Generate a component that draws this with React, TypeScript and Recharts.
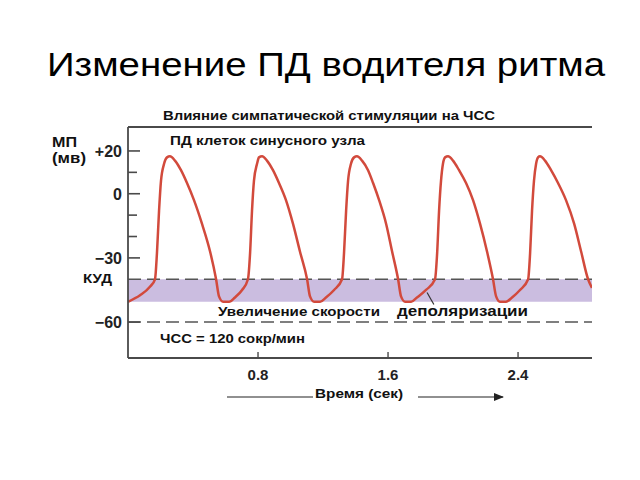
import React from "react";
import {
  ComposedChart,
  Line,
  XAxis,
  YAxis,
  ReferenceLine,
  ReferenceArea,
} from "recharts";

// time, seconds
const timeSec = [
  0.0, 0.074, 0.135, 0.166, 0.178, 0.191, 0.203, 0.222, 0.24, 0.258, 0.289, 0.326, 0.363, 0.406, 0.455, 0.505, 0.542, 0.56, 0.585, 0.622, 0.658, 0.702, 0.738,
  0.751, 0.763, 0.775, 0.794, 0.806, 0.825, 0.855, 0.892, 0.929, 0.972, 1.015, 1.058, 1.102, 1.12, 1.145, 1.182, 1.218, 1.268, 1.317,
  1.329, 1.342, 1.354, 1.372, 1.391, 1.409, 1.44, 1.477, 1.508, 1.545, 1.588, 1.625, 1.662, 1.68, 1.705, 1.742, 1.778, 1.834, 1.889,
  1.902, 1.914, 1.926, 1.938, 1.951, 1.969, 2.0, 2.037, 2.08, 2.123, 2.166, 2.209, 2.246, 2.265, 2.289, 2.326, 2.363, 2.412, 2.462,
  2.474, 2.486, 2.498, 2.511, 2.523, 2.535, 2.566, 2.603, 2.646, 2.695, 2.745, 2.788, 2.831, 2.855,
];

// membrane potential, mV
const membranePotential = [
  -50.5, -47.5, -43.5, -40, -28, -8, 6, 14, 17, 17.5, 15.5, 11, 5, -3, -14, -27, -40, -48, -50.5, -50.5, -48.5, -45, -40,
  -28, -8, 6, 14, 17, 17.5, 15.5, 11, 5, -3, -14, -27, -40, -48, -50.5, -50.5, -48.5, -45, -40,
  -28, -8, 6, 14, 17, 17.5, 15.5, 11, 5, -3, -14, -27, -40, -48, -50.5, -50.5, -48.5, -45, -40,
  -28, -8, 6, 14, 17, 17.5, 15.5, 11, 5, -3, -14, -27, -40, -48, -50.5, -50.5, -48.5, -45, -40,
  -28, -8, 6, 14, 17, 17.5, 15.5, 11, 5, -3, -14, -27, -40, -44,
];

const yTicks = [20, 10, 0, -10, -20, -30, -60];
const yTickLabels: Record<number, string> = { 20: "+20", 0: "0", [-30]: "\u221230", [-60]: "\u221260" };
const xTicks = [0.8, 1.6, 2.4];

const thresholdMv = -40; // КУД
const diastolicMv = -50.5;
const lowerDashMv = -60;
const X_MAX = 2.855;
const Y_MIN = -76.8;
const Y_MAX = 31.2;

const data = timeSec.map((t, i) => ({ t, v: membranePotential[i] }));

const FONT = "'Liberation Sans', Arial, sans-serif";
const AXIS = "#4a4a4a";

const YTick = (props: any) => {
  const { x, y, payload } = props;
  const label = yTickLabels[payload.value];
  const major = label !== undefined;
  return (
    <g>
      <line x1={x} y1={y} x2={x + (major ? 12 : 9)} y2={y} stroke={AXIS} strokeWidth={1.6} />
      {major && (
        <text x={x - 6} y={y + 6} textAnchor="end" fontFamily={FONT} fontWeight="bold" fontSize={16} fill="#222">
          {label}
        </text>
      )}
    </g>
  );
};

const XTick = (props: any) => {
  const { x, y, payload } = props;
  return (
    <g>
      <line x1={x} y1={y - 6} x2={x} y2={y} stroke={AXIS} strokeWidth={1.4} />
      <text x={x} y={y + 22} textAnchor="middle" fontFamily={FONT} fontWeight="bold" fontSize={15} fill="#222">
        {payload.value.toFixed(1)}
      </text>
    </g>
  );
};

const T = (p: { x: number; y: number; len: number; size: number; bold?: boolean; children: string }) => (
  <text
    x={p.x}
    y={p.y}
    fontFamily={FONT}
    fontSize={p.size}
    fontWeight={p.bold === false ? "normal" : "bold"}
    fill="#111"
    textLength={p.len}
    lengthAdjust="spacingAndGlyphs"
  >
    {p.children}
  </text>
);

export default function App() {
  return (
    <div style={{ position: "absolute", left: 0, top: 0, width: 640, height: 480, background: "#fff" }}>
      <ComposedChart
        width={640}
        height={480}
        data={data}
        margin={{ top: 127, right: 48, bottom: 92, left: 68 }}
      >
        <XAxis
          dataKey="t"
          type="number"
          domain={[0, X_MAX]}
          ticks={xTicks}
          interval={0}
          allowDataOverflow
          height={30}
          tickSize={0}
          tickMargin={0}
          tick={<XTick />}
          axisLine={{ stroke: AXIS, strokeWidth: 1.8 }}
          tickLine={false}
        />
        <YAxis
          type="number"
          domain={[Y_MIN, Y_MAX]}
          ticks={yTicks}
          interval={0}
          allowDataOverflow
          width={60}
          tickSize={0}
          tickMargin={0}
          tick={<YTick />}
          axisLine={{ stroke: AXIS, strokeWidth: 1.8 }}
          tickLine={false}
        />
        <ReferenceArea
          x1={0}
          x2={X_MAX}
          y1={diastolicMv}
          y2={thresholdMv}
          fill="#cbbde0"
          fillOpacity={1}
          stroke="none"
          ifOverflow="visible"
        />
        <ReferenceLine y={Y_MAX} stroke={AXIS} strokeWidth={1.8} ifOverflow="visible" />
        <ReferenceLine y={thresholdMv} stroke="#555" strokeWidth={1.6} strokeDasharray="13 6" />
        <ReferenceLine y={lowerDashMv} stroke="#555" strokeWidth={1.6} strokeDasharray="13 6" />
        <ReferenceLine
          segment={[
            { x: 1.84, y: -46.2 },
            { x: 1.882, y: -51.8 },
          ]}
          stroke="#333"
          strokeWidth={1.2}
          ifOverflow="visible"
        />
        <Line
          type="monotone"
          dataKey="v"
          stroke="#d24a3c"
          strokeWidth={2.5}
          dot={false}
          isAnimationActive={false}
        />
      </ComposedChart>
      <svg
        width={640}
        height={480}
        style={{ position: "absolute", left: 0, top: 0, pointerEvents: "none" }}
      >
        <text
          x={47}
          y={76}
          fontFamily={FONT}
          fontSize={34}
          fill="#000"
          textLength={558}
          lengthAdjust="spacingAndGlyphs"
        >
          Изменение ПД водителя ритма
        </text>
        <T x={163} y={120} len={332} size={12}>Влияние симпатической стимуляции на ЧСС</T>
        <T x={170} y={145} len={195} size={12}>ПД клеток синусного узла</T>
        <T x={52} y={147} len={25} size={15}>МП</T>
        <T x={52} y={163} len={34} size={14}>(мв)</T>
        <T x={83} y={283} len={29} size={13}>КУД</T>
        <T x={218} y={316} len={162} size={12.5}>Увеличение скорости</T>
        <T x={397} y={316} len={131} size={15}>деполяризации</T>
        <T x={160} y={343} len={145} size={12}>ЧСС = 120 сокр/мин</T>
        <T x={315} y={398} len={88} size={12}>Время (сек)</T>
        <defs>
          <marker id="arr" markerWidth="10" markerHeight="8" refX="9" refY="4" orient="auto" markerUnits="userSpaceOnUse">
            <path d="M0,0 L10,4 L0,8 Z" fill="#222" />
          </marker>
        </defs>
        <line x1={227} y1={397} x2={313} y2={397} stroke="#222" strokeWidth={1.2} />
        <line x1={418} y1={397} x2={503} y2={397} stroke="#222" strokeWidth={1.2} markerEnd="url(#arr)" />
      </svg>
    </div>
  );
}
